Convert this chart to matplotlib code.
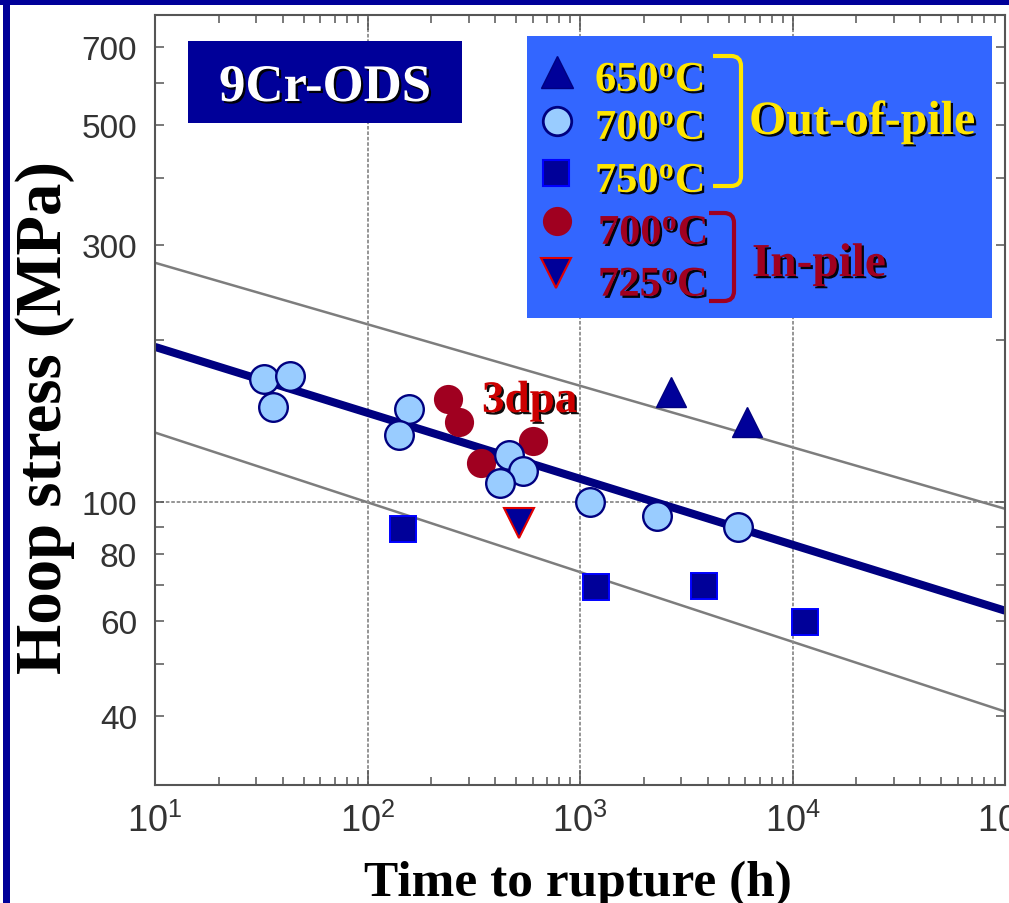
import matplotlib
matplotlib.use('Agg')
import matplotlib.pyplot as plt
import matplotlib.patheffects as pe
from matplotlib import font_manager
from matplotlib.patches import Rectangle, PathPatch
from matplotlib.path import Path
from matplotlib.ticker import FixedLocator, FixedFormatter, NullFormatter

# ---------------- data ----------------
t_650 = [2680, 6110]
s_650 = [160, 141]
t_700 = [32.6, 43.2, 35.9, 157, 141, 463, 540, 421, 1114, 2302, 5546]
s_700 = [169, 171, 150, 149, 133, 122, 114, 108.5, 100, 94.2, 89.9]
t_750 = [147, 1189, 3837, 11460]
s_750 = [89.1, 69.5, 69.8, 59.9]
t_in700 = [239, 270, 601, 342]
s_in700 = [155, 141, 130, 118]
t_in725 = [516]
s_in725 = [91.4]
fit_t = [10, 1e5]
fit_s = [194, 62.8]
upper_t = [10, 1e5]
upper_s = [278, 97.1]
lower_t = [10, 1e5]
lower_s = [134.5, 40.8]

x_major = [1e1, 1e2, 1e3, 1e4, 1e5]
x_labels = [r'$10^{1}$', r'$10^{2}$', r'$10^{3}$', r'$10^{4}$', r'$10^{5}$']
y_major = [40, 60, 80, 100, 300, 500, 700]
y_labels = ['40', '60', '80', '100', '300', '500', '700']
y_minor = [50, 70, 90, 200, 400, 600]
legend_temps = ['650', '700', '750', '700', '725']

# ---------------- fonts ----------------
names = {f.name for f in font_manager.fontManager.ttflist}
if 'Liberation Sans Narrow' in names:
    tick_font, tsize, xsize = 'Liberation Sans Narrow', 27, 29
else:
    tick_font, tsize, xsize = 'Liberation Sans', 24, 26
plt.rcParams['font.family'] = [tick_font, 'DejaVu Sans']
plt.rcParams['mathtext.fontset'] = 'custom'
plt.rcParams['mathtext.rm'] = tick_font
plt.rcParams['mathtext.it'] = tick_font
plt.rcParams['mathtext.bf'] = 'Liberation Serif:bold'
SERIF = 'Liberation Serif'

W, H = 1009, 904
fig = plt.figure(figsize=(W / 100, H / 100), dpi=100)
fig.patch.set_facecolor('white')

# ---------------- main axes ----------------
L, R, T, B = 155, 1005, 16, 786
ax = fig.add_axes([L / W, 1 - B / H, (R - L) / W, (B - T) / H])
ax.set_xscale('log')
ax.set_yscale('log')
ax.set_xlim(10, 1e5)
ax.set_ylim(29.8, 802)

ax.xaxis.set_major_locator(FixedLocator(x_major))
ax.xaxis.set_major_formatter(FixedFormatter(x_labels))
ax.xaxis.set_minor_locator(FixedLocator([k * 10 ** d for d in range(1, 5) for k in range(2, 10)]))
ax.xaxis.set_minor_formatter(NullFormatter())
ax.yaxis.set_major_locator(FixedLocator(y_major))
ax.yaxis.set_major_formatter(FixedFormatter(y_labels))
ax.yaxis.set_minor_locator(FixedLocator(y_minor))
ax.yaxis.set_minor_formatter(NullFormatter())

ax.tick_params(which='both', direction='in', top=True, right=True,
               color='#555555', width=1.1, labelcolor='#333333', labelsize=tsize)
ax.tick_params(axis='x', which='major', length=11, pad=13, labelsize=xsize)
ax.tick_params(axis='x', which='minor', length=6)
ax.tick_params(axis='y', which='both', length=6.5, pad=13)
for sp in ax.spines.values():
    sp.set_color('#555555')
    sp.set_linewidth(1.5)

ax.grid(axis='x', which='major', color='#8c8c8c', lw=1.3, ls=(0, (2, 1)), zorder=0)
ax.axhline(100, color='#8c8c8c', lw=1.3, ls=(0, (2, 1)), zorder=0)

ax.plot(upper_t, upper_s, color='#7d7d7d', lw=1.8, zorder=1)
ax.plot(lower_t, lower_s, color='#7d7d7d', lw=1.8, zorder=1)
ax.plot(fit_t, fit_s, color='#000080', lw=5.8, solid_capstyle='butt', zorder=2)

ax.plot(t_650, s_650, ls='none', marker='^', ms=22, mfc='#000099', mec='#000080', mew=1, zorder=3)
ax.plot(t_750, s_750, ls='none', marker='s', ms=19, mfc='#000099', mec='#0000ff', mew=1.4, zorder=3)
ax.plot(t_in725, s_in725, ls='none', marker='v', ms=21, mfc='#000099', mec='#e00000', mew=1.5, zorder=3)
ax.plot(t_in700, s_in700, ls='none', marker='o', ms=21, mfc='#a00020', mec='#a00020', mew=0, zorder=3)
ax.plot(t_700, s_700, ls='none', marker='o', ms=20.6, mfc='#99ccff', mec='#000080', mew=1.7, zorder=4)

# ---------------- overlay (pixel coords) ----------------
ov = fig.add_axes([0, 0, 1, 1], zorder=10)
ov.set_xlim(0, W)
ov.set_ylim(H, 0)
ov.axis('off')
ov.patch.set_alpha(0)

shadow = [pe.SimplePatchShadow(offset=(1.6, -1.6), shadow_rgbFace='black', alpha=0.95), pe.Normal()]

# frame bars
ov.add_patch(Rectangle((0, 0), W, 5.5, fc='#000099', ec='none'))
ov.add_patch(Rectangle((3, 0), 7, H, fc='#000099', ec='none'))

# 9Cr-ODS box
ov.add_patch(Rectangle((188, 42), 274, 82, fc='#000099', ec='none'))
ov.text(325, 102, '9Cr-ODS', family=SERIF, weight='bold', size=38, color='white',
        ha='center', va='baseline', path_effects=shadow)

# legend box
ov.add_patch(Rectangle((527, 37), 465, 282, fc='#3366ff', ec='none'))
ov.plot([557], [73], marker='^', ms=23, mfc='#000099', mec='#000080', mew=1)
ov.plot([557], [122], marker='o', ms=20.5, mfc='#99ccff', mec='#000080', mew=2)
ov.plot([556], [174], marker='s', ms=19, mfc='#000099', mec='#0000ff', mew=1.5)
ov.plot([557], [222], marker='o', ms=21, mfc='#a00020', mec='#a00020', mew=0)
ov.plot([556], [274], marker='v', ms=22, mfc='#000099', mec='#e00000', mew=1.5)

YEL = '#ffe600'
RED = '#a00020'
leg_pos = [(595, 92, YEL), (595, 140, YEL), (595, 193, YEL), (598, 245, RED), (598, 297, RED)]
for temp, (x, y, c) in zip(legend_temps, leg_pos):
    ov.text(x, y, r'$\mathbf{%s^{o}C}$' % temp, size=30.5, color=c,
            ha='left', va='baseline', path_effects=shadow)

def bracket(x0, xv, y0, y1, color, r=10):
    verts = [(x0, y0), (xv - r, y0), (xv, y0), (xv, y0 + r),
             (xv, y1 - r), (xv, y1), (xv - r, y1), (x0, y1)]
    codes = [Path.MOVETO, Path.LINETO, Path.CURVE3, Path.CURVE3,
             Path.LINETO, Path.CURVE3, Path.CURVE3, Path.LINETO]
    ov.add_patch(PathPatch(Path(verts, codes), fc='none', ec=color, lw=3, capstyle='butt'))

bracket(713, 741, 57, 187, YEL)
bracket(709, 734, 214, 302, RED)

ov.text(749, 135, 'Out-of-pile', family=SERIF, weight='bold', size=34.5, color=YEL,
        ha='left', va='baseline', path_effects=shadow)
ov.text(752, 277, 'In-pile', family=SERIF, weight='bold', size=34, color=RED,
        ha='left', va='baseline', path_effects=shadow)

ov.text(482, 413, '3dpa', family=SERIF, weight='bold', size=32.5, color='#cc0000',
        ha='left', va='baseline', path_effects=shadow)

# axis labels
ov.text(45, 418, 'Hoop stress (MPa)', family=SERIF, weight='bold', size=46.5, color='black',
        rotation=90, ha='center', va='center')
ov.text(578, 896, 'Time to rupture (h)', family=SERIF, weight='bold', size=37, color='black',
        ha='center', va='baseline')

fig.savefig('out.png', dpi=100)
